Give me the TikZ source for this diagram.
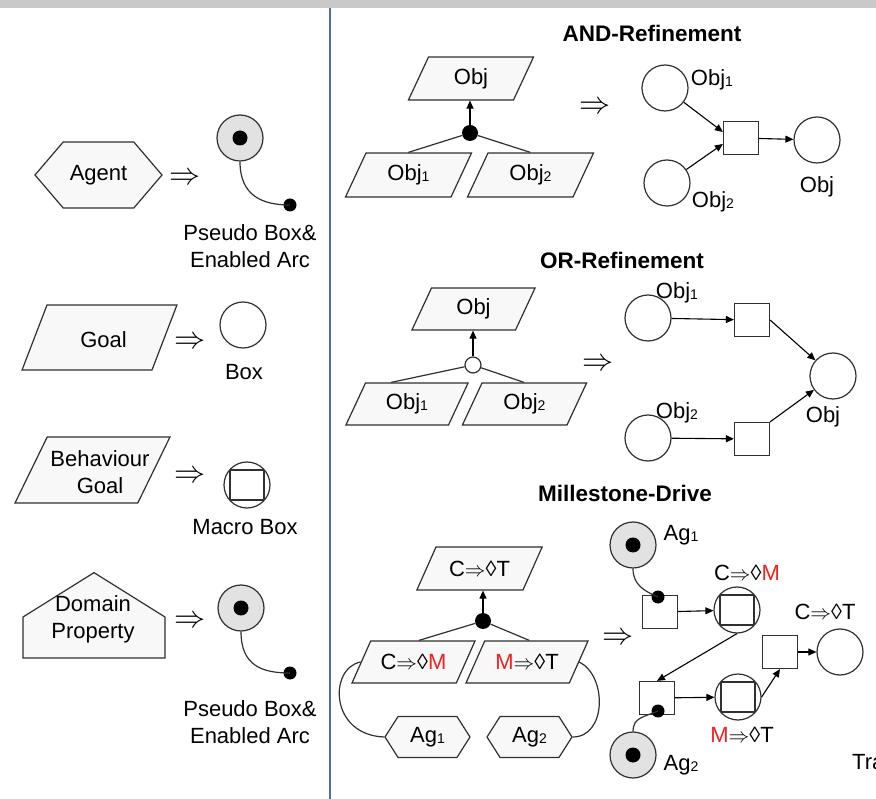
\documentclass[tikz,border=0pt]{standalone}
\usepackage{fontspec}
\setmainfont{Liberation Sans}
\usepackage{graphicx}
\usetikzlibrary{shapes.geometric,shapes.symbols,arrows.meta,calc}

\definecolor{shapefill}{HTML}{F8F8F8}
\definecolor{tokenfill}{HTML}{E2E2E2}
\definecolor{lineC}{HTML}{303030}
\definecolor{divider}{HTML}{4D6EA8}
\definecolor{redM}{HTML}{F22020}
\definecolor{bandC}{HTML}{C9C9C9}

\newcommand\sub[1]{\raisebox{-1pt}{\fontsize{14}{14}\selectfont #1}}
\newcommand\imp{$\Rightarrow$}
\newcommand\rM{\textcolor{redM}{M}}
\newcommand\bigimp{\scalebox{1.5}{$\Rightarrow$}}

\begin{document}
\begin{tikzpicture}[x=1pt,y=-1pt,
  every node/.style={font=\fontsize{22}{27}\selectfont, inner sep=0pt, align=center},
  base/.style={draw=lineC, line width=1.2pt},
  para/.style n args={4}{base, fill=shapefill, trapezium, trapezium left angle=#3, trapezium right angle=#4, text width=#1, text height=#2, text depth=#2, inner sep=0pt},
  hexa/.style n args={3}{base, fill=shapefill, signal, signal to=west and east, signal pointer angle=#1, minimum width=#2, minimum height=#3},
  house/.style n args={3}{base, fill=shapefill, signal, signal to=north, signal pointer angle=#1, minimum width=#2, minimum height=#3},
  place/.style={base, circle, fill=white, minimum size=46},
  tokplace/.style={place, fill=tokenfill},
  macro/.style={place, path picture={\draw[base] ($(path picture bounding box.center)+(-17,-15)$) rectangle ($(path picture bounding box.center)+(17,15)$);}},
  trans/.style={base, rectangle, fill=white, minimum width=35, minimum height=33},
  anddot/.style={circle, fill=black, minimum size=16},
  ordot/.style={circle, base, fill=white, minimum size=16},
  tokdot/.style={circle, fill=black, minimum size=15},
  enddot/.style={circle, fill=black, minimum size=13},
  arr/.style={draw=black, line width=1.1pt, -{Triangle[length=8pt,width=7pt]}},
  link/.style={draw=lineC, line width=1.2pt},
  ttl/.style={font=\bfseries\fontsize{22.5}{27}\selectfont}
]
\useasboundingbox (0,0) rectangle (876,799);
\fill[bandC] (0,0) rectangle (876,8);
\draw[divider, line width=1.8pt] (330,8) -- (330,799);

% ---------------- left column ----------------
\node[hexa={99}{127}{66}] (agent) at (98.5,175) {Agent};
\node (imp1) at (185,179) {\bigimp};
\node[tokplace] (pb1) at (240,138) {};
\node[tokdot] (pb1d) at (pb1) {};
\node[enddot] (ea1) at (290,205) {};
\draw[link] (pb1.south) .. controls +(0,34) and +(-28,0) .. (ea1.center);
\node (pb1t) at (250,246) {Pseudo Box\&\\Enabled Arc};

\node[para={105}{32.5}{69}{111}, label={[name=goalt, xshift=4pt, yshift=-2pt]center:Goal}] (goal) at (99.5,337.5) {};
\node (imp2) at (190,343) {\bigimp};
\node[place] (box) at (243,325) {};
\node (boxt) at (244,372) {Box};

\node[para={90.6}{33}{64}{116}] (bgoal) at (92.5,470) {};
\node (bgoalt) at (100,472.5) {Behaviour\\Goal};
\node (imp3) at (190,477) {\bigimp};
\node[macro] (mbox) at (247,485) {};
\node (mboxt) at (245,527) {Macro Box};

\node[house={116}{142}{41}] (dom) at (94,637.5) {};
\node (domt) at (93,619.5) {Domain\\Property};
\node (imp4) at (190,622) {\bigimp};
\node[tokplace] (pb2) at (241,608) {};
\node[tokdot] (pb2d) at (pb2) {};
\node[enddot] (ea2) at (290,673) {};
\draw[link] (pb2.south) .. controls +(0,34) and +(-28,0) .. (ea2.center);
\node (pb2t) at (250,722.5) {Pseudo Box\&\\Enabled Arc};

% ---------------- AND refinement ----------------
\node[ttl] (andt) at (652,33) {AND-Refinement};
\node[para={85}{21.5}{65}{115}, label={[name=aobjt]center:Obj}] (aobj) at (471,78.5) {};
\node[anddot] (aand) at (470,133) {};
\node[para={85}{22}{65}{115}, label={[name=aobj1t]center:Obj\sub{1}}] (aobj1) at (408.5,175) {};
\node[para={85}{22}{65}{115}, label={[name=aobj2t]center:Obj\sub{2}}] (aobj2) at (530.5,175) {};
\draw[arr] (aand.north) -- (aand.north |- aobj.bottom side);
\draw[link] (aand) -- ($(aobj1.top left corner)!0.4!(aobj1.top right corner)$);
\draw[link] (aand) -- ($(aobj2.top left corner)!0.4!(aobj2.top right corner)$);
\node (aimp) at (595,108) {\bigimp};

\node[place] (ap1) at (665,88) {};
\node (ap1t) at (712,80) {Obj\sub{1}};
\node[place] (ap2) at (667,183) {};
\node (ap2t) at (713,202) {Obj\sub{2}};
\node[trans] (at) at (741,138) {};
\node[place] (ap) at (817,140) {};
\node (apt) at (817,187) {Obj};
\draw[arr] (ap1) -- ($(at.west)+(0,-6)$);
\draw[arr] (ap2) -- ($(at.west)+(0,6)$);
\draw[arr] (at) -- (ap);

% ---------------- OR refinement ----------------
\node[ttl] (ort) at (622,260) {OR-Refinement};
\node[para={84}{21}{65}{115}, label={[name=oobjt]center:Obj}] (oobj) at (473.5,309) {};
\node[ordot] (oor) at (473,365) {};
\node[para={83}{21}{65}{115}, label={[name=oobj1t]center:Obj\sub{1}}] (oobj1) at (407,404) {};
\node[para={85}{21}{65}{115}, label={[name=oobj2t]center:Obj\sub{2}}] (oobj2) at (524.5,404) {};
\draw[arr] (oor.north) -- (oor.north |- oobj.bottom side);
\draw[link] (oor) -- ($(oobj1.top left corner)!0.25!(oobj1.top right corner)$);
\draw[link] (oor) -- ($(oobj2.top left corner)!0.4!(oobj2.top right corner)$);
\node (oimp) at (598,365) {\bigimp};

\node[place] (op1) at (648,318) {};
\node (op1t) at (677,293) {Obj\sub{1}};
\node[trans] (ot1) at (752,320) {};
\node[place] (op2) at (648,438) {};
\node (op2t) at (677,413) {Obj\sub{2}};
\node[trans] (ot2) at (752,439) {};
\node[place] (op) at (833,376) {};
\node (opt) at (823,417) {Obj};
\draw[arr] (op1) -- (ot1);
\draw[arr] (op2) -- (ot2);
\draw[arr] (ot1.east) -- (op);
\draw[arr] (ot2.north east) -- (op);

% ---------------- Milestone drive ----------------
\node[ttl] (mst) at (625,493) {Millestone-Drive};
\node[para={87}{21.5}{66}{114}, label={[name=mctt]center:C\imp◊T}] (mct) at (479.5,568.5) {};
\node[anddot] (mand) at (483,621) {};
\node[para={85.6}{21}{66}{114}, label={[name=mcmt]center:C\imp◊\rM}] (mcm) at (413.5,662) {};
\node[para={84.6}{21}{66}{114}, label={[name=mmtt]center:\rM\imp◊T}] (mmt) at (527,662) {};
\draw[arr] (mand.north) -- (mand.north |- mct.bottom side);
\draw[link] (mand) -- ($(mcm.top left corner)!0.46!(mcm.top right corner)$);
\draw[link] (mand) -- ($(mmt.top left corner)!0.43!(mmt.top right corner)$);
\node[hexa={115}{85}{41}] (mag1) at (427.5,737) {Ag\sub{1}};
\node[hexa={115}{85}{41}] (mag2) at (529.5,737) {Ag\sub{2}};
\draw[link] (mcm.left side) .. controls +(-32,6) and +(-55,-2) .. (mag1.west);
\draw[link] (mmt.right side) .. controls +(28,14) and +(34,0) .. (mag2.east);
\node (mimp) at (618,639) {\bigimp};

\node[tokplace] (mp1) at (633,545) {};
\node[tokdot] (mp1d) at (mp1) {};
\node (mp1t) at (681,535) {Ag\sub{1}};
\node[trans] (mt1) at (660,612) {};
\node[enddot] (me1) at (658,597) {};
\draw[link] (mp1.south) .. controls +(0,16) and +(-14,-6) .. (me1.center);
\node[macro] (mm1) at (737,610) {};
\node (mm1t) at (747,573) {C\imp◊\rM};
\draw[arr] (mt1) -- (mm1);
\node[trans] (mt2) at (657,698) {};
\draw[arr] (mm1.south) -- (mt2.north);
\node[tokplace] (mp2) at (633,755) {};
\node[tokdot] (mp2d) at (mp2) {};
\node (mp2t) at (681,765) {Ag\sub{2}};
\node[enddot] (me2) at (658,711) {};
\draw[link] (mp2.north) .. controls +(0,-14) and +(-14,6) .. (me2.center);
\node[macro] (mm2) at (738,697) {};
\node (mm2t) at (742,735) {\rM\imp◊T};
\draw[arr] (mt2) -- (mm2);
\node[trans] (mt3) at (780,652) {};
\draw[arr] (mm2.east) -- (mt3.south);
\node[place] (mc) at (840,652) {};
\node (mct2) at (825,612) {C\imp◊T};
\draw[arr] (mt3) -- (mc);
\node[anchor=west] (tra) at (852,762) {Tra};
\end{tikzpicture}
\end{document}
